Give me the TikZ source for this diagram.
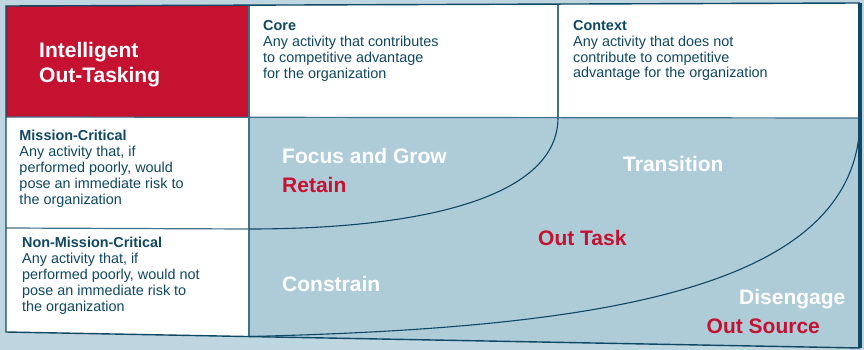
\documentclass[tikz,border=0pt]{standalone}
\usepackage{fontspec}
\setmainfont{Liberation Sans}
\definecolor{bgblue}{HTML}{BED6E0}
\definecolor{areablue}{HTML}{AECBD8}
\definecolor{boxred}{HTML}{C41230}
\definecolor{deepteal}{HTML}{0F4862}
\definecolor{lineteal}{HTML}{3F7189}
\tikzset{
  celltext/.style={anchor=north west, inner sep=0pt, align=left, text=deepteal,
    font=\fontsize{14.4}{15.9}\selectfont},
  bigword/.style={anchor=base west, inner sep=0pt, font=\fontsize{21}{25}\selectfont\bfseries},
  divider/.style={lineteal, line width=1.2pt},
  curveline/.style={deepteal, line width=1.1pt},
}
\begin{document}
\begin{tikzpicture}[x=1pt,y=-1pt]
        \fill[bgblue] (0,0) rectangle (864,350);
        % frame corners
        \coordinate (TL) at (6,6);
        \coordinate (TR) at (860,3);
        \coordinate (BR) at (860,348);
        \coordinate (BL) at (6,332);
        % grid points
        \coordinate (A1) at (249,5.2);
        \coordinate (A2) at (558,4.1);
        \coordinate (M1) at (6,117);
        \coordinate (M2) at (860,118);
        \coordinate (Q1) at (249,117.3);
        \coordinate (Q2) at (558,117.6);
        \coordinate (N1) at (6,228);
        \coordinate (N2) at (249,229);
        \coordinate (B1) at (249,336.5);
        \fill[white] (TL) -- (TR) -- (BR) -- (BL) -- cycle;
        \fill[boxred] (TL) -- (A1) -- (Q1) -- (M1) -- cycle;
        \fill[areablue] (Q1) -- (M2) -- (BR) -- (B1) -- cycle;
        \draw[divider] (A1) -- (B1);
        \draw[divider] (A2) -- (Q2);
        \draw[divider] (M1) -- (M2);
        \draw[divider] (N1) -- (N2);
        \draw[deepteal, line width=1.4pt] (BR) -- (BL) -- (TL) -- (TR);
        \draw[deepteal, line width=3.5pt] (TR) -- (BR);
        % regions
        \draw[curveline] (Q2) .. controls (558,195) and (430,229) .. (N2);
        \draw[curveline] (M2) .. controls (860,290) and (600,328) .. (B1);
        % labels
        \node[bigword, white, anchor=north west, align=left] (title) at (39,42.5) {Intelligent\\Out-Tasking};
        \node[celltext] (core) at (263,20.5) {\textbf{Core}\\Any activity that contributes\\to competitive advantage\\for the organization};
        \node[celltext] (context) at (573,20) {\textbf{Context}\\Any activity that does not\\contribute to competitive\\advantage for the organization};
        \node[celltext] (mission) at (19.3,130) {\textbf{Mission-Critical}\\Any activity that, if\\performed poorly, would\\pose an immediate risk to\\the organization};
        \node[celltext] (nonmission) at (22,237) {\textbf{Non-Mission-Critical}\\Any activity that, if\\performed poorly, would not\\pose an immediate risk to\\the organization};
        \node[bigword, white] (focus) at (282,163.3) {Focus and Grow};
        \node[bigword, boxred] (retain) at (282,192.3) {Retain};
        \node[bigword, white] (transition) at (623,171) {Transition};
        \node[bigword, boxred] (outtask) at (538,245.7) {Out Task};
        \node[bigword, white] (constrain) at (282,291) {Constrain};
        \node[bigword, white] (disengage) at (739,304) {Disengage};
        \node[bigword, boxred] (outsource) at (706.5,333.3) {Out Source};
\end{tikzpicture}
\end{document}
